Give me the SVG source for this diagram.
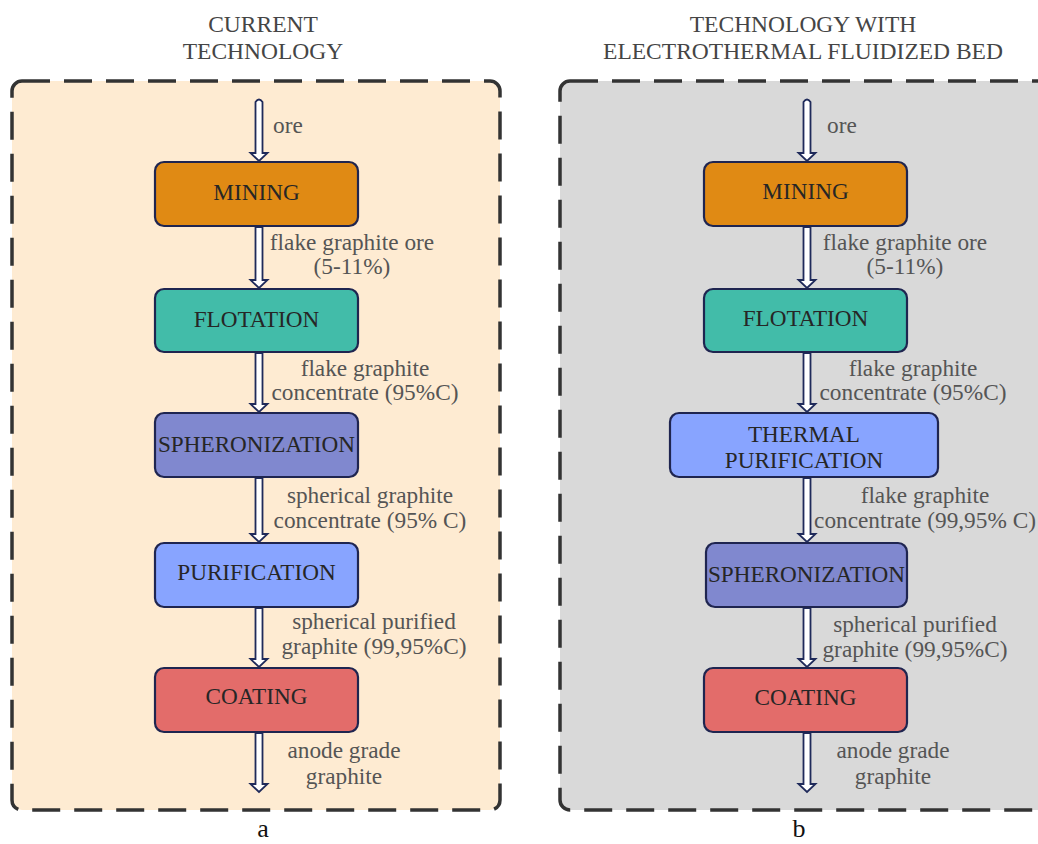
<svg xmlns="http://www.w3.org/2000/svg" width="1038" height="844" viewBox="0 0 1038 844">
  <style>
    text { font-family: "Liberation Serif", "Times New Roman", serif; }
    .title { font-size: 23.5px; fill: #454545; text-anchor: middle; }
    .lbl { font-size: 23.3px; fill: #555; }
    .mid { text-anchor: middle; }
    .box { stroke: #1f2550; stroke-width: 2.2; }
    .btxt { font-size: 23.2px; fill: #262626; text-anchor: middle; }
    .panel { stroke: #333; stroke-width: 3.5; stroke-dasharray: 28 14; }
    .arrow { fill: #fff; stroke: #1f2a5a; stroke-width: 1.8; stroke-linejoin: miter; }
    .cap { font-size: 26px; fill: #111; text-anchor: middle; }
  </style>

  <rect width="1038" height="844" fill="#fff"/>

  <!-- panel frames -->
  <g id="panel-a">
    <rect class="panel" x="12" y="81" width="488" height="729" rx="10" fill="#feebd2"/>
    <text class="title" x="263" y="32">CURRENT</text>
    <text class="title" x="263" y="59">TECHNOLOGY</text>
    <text class="cap" x="263" y="837">a</text>
  </g>
  <g id="panel-b">
    <rect class="panel" x="560" y="81" width="490" height="729" rx="10" fill="#d9d9d9"/>
    <text class="title" x="803" y="32">TECHNOLOGY WITH</text>
    <text class="title" x="803" y="59">ELECTROTHERMAL FLUIDIZED BED</text>
    <text class="cap" x="799" y="837">b</text>
  </g>

  <!-- connectors: hollow block arrows -->
  <g id="connectors">
    <path class="arrow" d="M255.5,102 Q259,97 262.5,102 L262.5,153 L267.5,153 L259,161 L250.5,153 L255.5,153 Z"/>
    <path class="arrow" d="M255.5,227 L262.5,227 L262.5,280 L267.5,280 L259,288 L250.5,280 L255.5,280 Z"/>
    <path class="arrow" d="M255.5,353 L262.5,353 L262.5,404 L267.5,404 L259,412 L250.5,404 L255.5,404 Z"/>
    <path class="arrow" d="M255.5,478 L262.5,478 L262.5,534 L267.5,534 L259,542 L250.5,534 L255.5,534 Z"/>
    <path class="arrow" d="M255.5,608 L262.5,608 L262.5,659 L267.5,659 L259,667 L250.5,659 L255.5,659 Z"/>
    <path class="arrow" d="M255.5,733 L262.5,733 L262.5,784 L267.5,784 L259,792 L250.5,784 L255.5,784 Z"/>

    <path class="arrow" d="M803.5,102 Q807,97 810.5,102 L810.5,153 L815.5,153 L807,161 L798.5,153 L803.5,153 Z"/>
    <path class="arrow" d="M803.5,227 L810.5,227 L810.5,280 L815.5,280 L807,288 L798.5,280 L803.5,280 Z"/>
    <path class="arrow" d="M803.5,353 L810.5,353 L810.5,404 L815.5,404 L807,412 L798.5,404 L803.5,404 Z"/>
    <path class="arrow" d="M803.5,478 L810.5,478 L810.5,534 L815.5,534 L807,542 L798.5,534 L803.5,534 Z"/>
    <path class="arrow" d="M803.5,608 L810.5,608 L810.5,659 L815.5,659 L807,667 L798.5,659 L803.5,659 Z"/>
    <path class="arrow" d="M803.5,733 L810.5,733 L810.5,784 L815.5,784 L807,792 L798.5,784 L803.5,784 Z"/>
  </g>

  <!-- flow labels, panel a -->
  <g id="labels-a">
    <text class="lbl" x="273" y="133">ore</text>
    <text class="lbl mid" x="352" y="250">flake graphite ore</text>
    <text class="lbl mid" x="352" y="274">(5-11%)</text>
    <text class="lbl mid" x="365" y="376">flake graphite</text>
    <text class="lbl mid" x="365" y="400">concentrate (95%C)</text>
    <text class="lbl mid" x="370" y="503">spherical graphite</text>
    <text class="lbl mid" x="370" y="528">concentrate (95% C)</text>
    <text class="lbl mid" x="374" y="629">spherical purified</text>
    <text class="lbl mid" x="374" y="654">graphite (99,95%C)</text>
    <text class="lbl mid" x="344" y="758">anode grade</text>
    <text class="lbl mid" x="344" y="784">graphite</text>
  </g>

  <!-- flow labels, panel b -->
  <g id="labels-b">
    <text class="lbl" x="827" y="133">ore</text>
    <text class="lbl mid" x="905" y="250">flake graphite ore</text>
    <text class="lbl mid" x="905" y="274">(5-11%)</text>
    <text class="lbl mid" x="913" y="376">flake graphite</text>
    <text class="lbl mid" x="913" y="400">concentrate (95%C)</text>
    <text class="lbl mid" x="925" y="503">flake graphite</text>
    <text class="lbl mid" x="925" y="528">concentrate (99,95% C)</text>
    <text class="lbl mid" x="915" y="632">spherical purified</text>
    <text class="lbl mid" x="915" y="657">graphite (99,95%C)</text>
    <text class="lbl mid" x="893" y="758">anode grade</text>
    <text class="lbl mid" x="893" y="784">graphite</text>
  </g>

  <!-- process steps, panel a -->
  <g id="a-mining">
    <rect class="box" x="155" y="162" width="203" height="64" rx="9" fill="#e08a14"/>
    <text class="btxt" x="256.5" y="200">MINING</text>
  </g>
  <g id="a-flotation">
    <rect class="box" x="155" y="289" width="203" height="63" rx="9" fill="#42bca9"/>
    <text class="btxt" x="256.5" y="327">FLOTATION</text>
  </g>
  <g id="a-spheronization">
    <rect class="box" x="155" y="413" width="203" height="64" rx="9" fill="#8088cf"/>
    <text class="btxt" x="256.5" y="452">SPHERONIZATION</text>
  </g>
  <g id="a-purification">
    <rect class="box" x="155" y="543" width="203" height="64" rx="9" fill="#88a4ff"/>
    <text class="btxt" x="256.5" y="580">PURIFICATION</text>
  </g>
  <g id="a-coating">
    <rect class="box" x="155" y="668" width="203" height="64" rx="9" fill="#e36c6a"/>
    <text class="btxt" x="256.5" y="704">COATING</text>
  </g>

  <!-- process steps, panel b -->
  <g id="b-mining">
    <rect class="box" x="704" y="162" width="203" height="64" rx="9" fill="#e08a14"/>
    <text class="btxt" x="805.5" y="199">MINING</text>
  </g>
  <g id="b-flotation">
    <rect class="box" x="704" y="289" width="203" height="63" rx="9" fill="#42bca9"/>
    <text class="btxt" x="805.5" y="326">FLOTATION</text>
  </g>
  <g id="b-thermal-purification">
    <rect class="box" x="670" y="413" width="268" height="64" rx="9" fill="#88a4ff"/>
    <text class="btxt" x="804" y="442">THERMAL</text>
    <text class="btxt" x="804" y="468">PURIFICATION</text>
  </g>
  <g id="b-spheronization">
    <rect class="box" x="706" y="543" width="201" height="64" rx="9" fill="#8088cf"/>
    <text class="btxt" x="806.5" y="582">SPHERONIZATION</text>
  </g>
  <g id="b-coating">
    <rect class="box" x="704" y="668" width="203" height="64" rx="9" fill="#e36c6a"/>
    <text class="btxt" x="805.5" y="705">COATING</text>
  </g>
</svg>
